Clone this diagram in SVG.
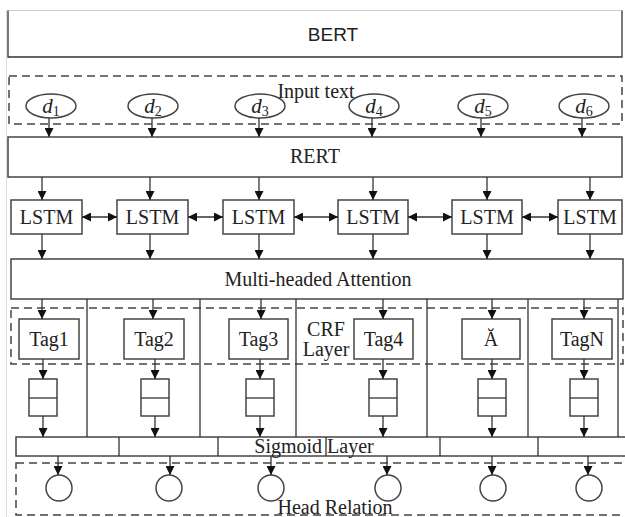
<svg xmlns="http://www.w3.org/2000/svg" width="625" height="517" viewBox="0 0 625 517">
<style>
.box{fill:#fff;stroke:#444;stroke-width:1.5}
.dash{fill:none;stroke:#444;stroke-width:1.5;stroke-dasharray:8 5}
.ln{stroke:#333;stroke-width:1.3;fill:none}
.ar{stroke:#333;stroke-width:1.3;fill:none;marker-end:url(#ah)}
.bi{stroke:#333;stroke-width:1.3;fill:none;marker-start:url(#ah);marker-end:url(#ah)}
.t{font-family:"Liberation Serif","Times New Roman",serif;font-size:20px;fill:#222;text-anchor:middle}
.s{font-family:"Liberation Sans",Arial,sans-serif;font-size:19px;fill:#222;text-anchor:middle}
.d{font-family:"Liberation Serif","Times New Roman",serif;font-size:21px;font-style:italic;fill:#222;text-anchor:middle}
.sub{font-size:14px;font-style:normal}
</style>
<defs>
<marker id="ah" viewBox="0 0 10 10" refX="10" refY="5" markerWidth="9" markerHeight="9" markerUnits="userSpaceOnUse" orient="auto-start-reverse">
<path d="M0,0 L10,5 L0,10 z" fill="#111"/>
</marker>
</defs>
<rect width="625" height="517" fill="#fff"/>
<line x1="6.5" y1="10" x2="6.5" y2="517" stroke="#ddd" stroke-width="1"/>

<g id="bert">
<line x1="8" y1="10.5" x2="622" y2="10.5" stroke="#ccc" stroke-width="1.2"/>
<path d="M8,10.5 V57 H622 V10.5" class="ln" stroke-width="1.5"/>
<text class="s" x="333" y="41">BERT</text>
</g>

<g id="input-text">
<rect class="dash" x="9" y="76" width="613" height="48"/>
<text class="t" x="316" y="98">Input text</text>
</g>
<g id="d1"><ellipse class="box" cx="51" cy="106" rx="25" ry="12"/><text class="d" x="51" y="113">d<tspan class="sub" dy="3">1</tspan></text></g>
<g id="d2"><ellipse class="box" cx="153" cy="106" rx="25" ry="12"/><text class="d" x="153" y="113">d<tspan class="sub" dy="3">2</tspan></text></g>
<g id="d3"><ellipse class="box" cx="260" cy="106" rx="25" ry="12"/><text class="d" x="260" y="113">d<tspan class="sub" dy="3">3</tspan></text></g>
<g id="d4"><ellipse class="box" cx="374" cy="106" rx="25" ry="12"/><text class="d" x="374" y="113">d<tspan class="sub" dy="3">4</tspan></text></g>
<g id="d5"><ellipse class="box" cx="483" cy="106" rx="25" ry="12"/><text class="d" x="483" y="113">d<tspan class="sub" dy="3">5</tspan></text></g>
<g id="d6"><ellipse class="box" cx="584" cy="106" rx="25" ry="12"/><text class="d" x="584" y="113">d<tspan class="sub" dy="3">6</tspan></text></g>

<g id="rert"><rect class="box" x="8" y="137" width="614" height="40"/><text class="t" x="315" y="163">RERT</text></g>

<g id="lstm1"><rect class="box" x="11" y="200" width="71" height="34"/><text class="t" x="46.5" y="224">LSTM</text></g>
<g id="lstm2"><rect class="box" x="117" y="200" width="71" height="34"/><text class="t" x="152.5" y="224">LSTM</text></g>
<g id="lstm3"><rect class="box" x="223" y="200" width="71" height="34"/><text class="t" x="258.5" y="224">LSTM</text></g>
<g id="lstm4"><rect class="box" x="338" y="200" width="70" height="34"/><text class="t" x="373" y="224">LSTM</text></g>
<g id="lstm5"><rect class="box" x="452" y="200" width="70" height="34"/><text class="t" x="487" y="224">LSTM</text></g>
<g id="lstm6"><rect class="box" x="558" y="200" width="64" height="34"/><text class="t" x="590" y="224">LSTM</text></g>

<g id="attention"><rect class="box" x="11" y="259" width="612" height="40"/><text class="t" x="318" y="286">Multi-headed Attention</text></g>

<g id="crf-layer">
<rect class="dash" x="11" y="308" width="612" height="56"/>
<text class="t" x="326" y="336">CRF</text>
<text class="t" x="326" y="356">Layer</text>
</g>
<g id="tag1"><rect class="box" x="19" y="319" width="60" height="40"/><text class="t" x="49" y="346">Tag1</text></g>
<g id="tag2"><rect class="box" x="124" y="319" width="60" height="40"/><text class="t" x="154" y="346">Tag2</text></g>
<g id="tag3"><rect class="box" x="229" y="319" width="59" height="40"/><text class="t" x="258.5" y="346">Tag3</text></g>
<g id="tag4"><rect class="box" x="354" y="319" width="59" height="40"/><text class="t" x="383.5" y="346">Tag4</text></g>
<g id="tag5"><rect class="box" x="462" y="319" width="58" height="40"/><text class="t" x="491" y="346">Ă</text></g>
<g id="tagN"><rect class="box" x="552" y="319" width="60" height="40"/><text class="t" x="582" y="346">TagN</text></g>

<g id="stack1"><rect class="box" x="29" y="379" width="28" height="37"/><line class="ln" x1="29" y1="398" x2="57" y2="398"/></g>
<g id="stack2"><rect class="box" x="141" y="379" width="28" height="37"/><line class="ln" x1="141" y1="398" x2="169" y2="398"/></g>
<g id="stack3"><rect class="box" x="246" y="379" width="28" height="37"/><line class="ln" x1="246" y1="398" x2="274" y2="398"/></g>
<g id="stack4"><rect class="box" x="369" y="379" width="28" height="37"/><line class="ln" x1="369" y1="398" x2="397" y2="398"/></g>
<g id="stack5"><rect class="box" x="478" y="379" width="28" height="37"/><line class="ln" x1="478" y1="398" x2="506" y2="398"/></g>
<g id="stack6"><rect class="box" x="570" y="379" width="28" height="37"/><line class="ln" x1="570" y1="398" x2="598" y2="398"/></g>

<g id="sigmoid-layer">
<rect class="box" x="16" y="437" width="614" height="19"/>
<path class="ln" d="M119,437V456 M218,437V456 M326,437V456 M440,437V456 M538,437V456"/>
<text class="t" x="314" y="453">Sigmoid Layer</text>
</g>

<g id="head-relation">
<rect class="dash" x="16" y="463" width="614" height="52"/>
<text class="t" x="335" y="514">Head Relation</text>
</g>
<g id="h1"><circle class="box" cx="59" cy="488" r="13"/></g>
<g id="h2"><circle class="box" cx="169" cy="488" r="13"/></g>
<g id="h3"><circle class="box" cx="271" cy="488" r="13"/></g>
<g id="h4"><circle class="box" cx="388" cy="488" r="13"/></g>
<g id="h5"><circle class="box" cx="493" cy="488" r="13"/></g>
<g id="h6"><circle class="box" cx="589" cy="488" r="13"/></g>

<g id="connectors">
<path class="ar" d="M49,118V137"/><path class="ar" d="M152,118V137"/><path class="ar" d="M259,118V137"/>
<path class="ar" d="M372,118V137"/><path class="ar" d="M481,118V137"/><path class="ar" d="M582,118V137"/>

<path class="ar" d="M42,177V200"/><path class="ar" d="M150,177V200"/><path class="ar" d="M259,177V200"/>
<path class="ar" d="M373,177V200"/><path class="ar" d="M487,177V200"/><path class="ar" d="M590,177V200"/>

<path class="bi" d="M82,217H117"/><path class="bi" d="M188,217H223"/><path class="bi" d="M294,217H338"/>
<path class="bi" d="M408,217H452"/><path class="bi" d="M522,217H558"/>

<path class="ar" d="M42,234V259"/><path class="ar" d="M150,234V259"/><path class="ar" d="M259,234V259"/>
<path class="ar" d="M373,234V259"/><path class="ar" d="M487,234V259"/><path class="ar" d="M590,234V259"/>

<path class="ln" d="M87,299V437 M200,299V437 M296,299V437 M427,299V437 M528,299V437 M618,299V437"/>

<path class="ar" d="M42,299V319"/><path class="ar" d="M153,299V319"/><path class="ar" d="M261,299V319"/>
<path class="ar" d="M383,299V319"/><path class="ar" d="M492,299V319"/><path class="ar" d="M584,299V319"/>

<path class="ar" d="M43,359V379"/><path class="ar" d="M155,359V379"/><path class="ar" d="M260,359V379"/>
<path class="ar" d="M383,359V379"/><path class="ar" d="M492,359V379"/><path class="ar" d="M584,359V379"/>

<path class="ar" d="M43,416V437"/><path class="ar" d="M155,416V437"/><path class="ar" d="M260,416V437"/>
<path class="ar" d="M383,416V437"/><path class="ar" d="M492,416V437"/><path class="ar" d="M584,416V437"/>

<path class="ar" d="M58,456V475"/><path class="ar" d="M170,456V475"/><path class="ar" d="M271,456V475"/>
<path class="ar" d="M387,456V475"/><path class="ar" d="M492,456V475"/><path class="ar" d="M588,456V475"/>
</g>
</svg>
